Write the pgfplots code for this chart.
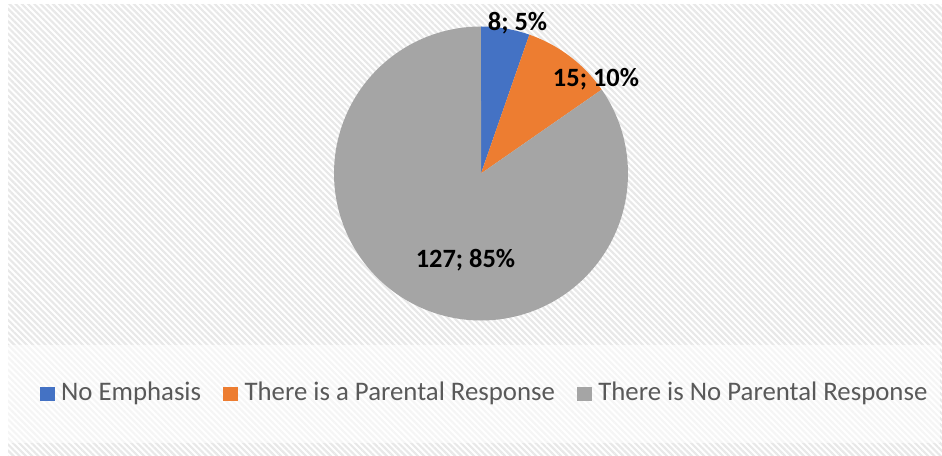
\documentclass[border=0pt]{standalone}
\usepackage{pgfplots}
\pgfplotsset{compat=1.18}
\usepackage{pgfplotstable}
\usepackage{fontspec}
\setmainfont{Carlito}
\usetikzlibrary{patterns.meta}
\definecolor{pieblue}{HTML}{4472C4}
\definecolor{pieorange}{HTML}{ED7D31}
\definecolor{piegray}{HTML}{A5A5A5}
\definecolor{legtext}{HTML}{595959}
\definecolor{hatch}{HTML}{E8E8E8}

\pgfplotstableread{
idx value
0 8
1 15
2 127
}\piedata

\begin{document}%
\begin{tikzpicture}
\pgfplotstablegetelem{0}{value}\of\piedata \let\vA\pgfplotsretval
\pgfplotstablegetelem{1}{value}\of\piedata \let\vB\pgfplotsretval
\pgfplotstablegetelem{2}{value}\of\piedata \let\vC\pgfplotsretval
\pgfmathsetmacro{\tot}{\vA+\vB+\vC}
\pgfmathsetmacro{\aZ}{90}
\pgfmathsetmacro{\aA}{90-\vA/\tot*360}
\pgfmathsetmacro{\aB}{\aA-\vB/\tot*360}
\pgfmathsetmacro{\aC}{\aB-\vC/\tot*360}
\pgfmathtruncatemacro{\pA}{round(\vA/\tot*100)}
\pgfmathtruncatemacro{\pB}{round(\vB/\tot*100)}
\pgfmathtruncatemacro{\pC}{round(\vC/\tot*100)}
\def\cx{481}
\def\cy{-173.5}
\def\rr{147}
\begin{axis}[
  scale only axis, width=471pt, height=227.5pt,
  xmin=0, xmax=942, ymin=-455, ymax=0,
  hide axis, clip=false,
  legend columns=3,
  legend image code/.code={\fill[#1] (0pt,-3.9pt) rectangle (7.5pt,3.1pt);},
  legend style={draw=none, fill=none, inner sep=0pt, at={(axis cs:485.5,-393)}, anchor=center,
    font=\fontsize{13.4}{16}\selectfont, text=legtext,
    /tikz/every even column/.append style={column sep=9pt},
    /tikz/every odd column/.append style={column sep=1.2pt},
    cells={anchor=west, inner xsep=0pt}},
]
\fill[white] (axis cs:0,0) rectangle (axis cs:942,-455);
\fill[pattern={Lines[angle=-45,distance=2.2pt,line width=1.1pt]}, pattern color=hatch]
  (axis cs:8,-5) rectangle (axis cs:942,-455);
\fill[white, fill opacity=0.6] (axis cs:8,-345) rectangle (axis cs:940,-443);

\addplot[fill=pieblue, draw=none, domain=\aA:\aZ, samples=30]
  ({\cx+\rr*cos(x)},{\cy+\rr*sin(x)}) -- (axis cs:\cx,\cy) -- cycle;
\addlegendentry{No Emphasis}
\addplot[fill=pieorange, draw=none, domain=\aB:\aA, samples=40]
  ({\cx+\rr*cos(x)},{\cy+\rr*sin(x)}) -- (axis cs:\cx,\cy) -- cycle;
\addlegendentry{There is a Parental Response}
\addplot[fill=piegray, draw=none, domain=\aC:\aB, samples=200]
  ({\cx+\rr*cos(x)},{\cy+\rr*sin(x)}) -- (axis cs:\cx,\cy) -- cycle;
\addlegendentry{There is No Parental Response}

\node[anchor=base, font=\fontsize{13.2}{15}\selectfont\bfseries, inner sep=0pt]
  at (axis cs:517.5,-31) {\vA; \pA\%};
\node[anchor=base, font=\fontsize{13.2}{15}\selectfont\bfseries, inner sep=0pt]
  at (axis cs:596,-87) {\vB; \pB\%};
\node[anchor=base, font=\fontsize{13.2}{15}\selectfont\bfseries, inner sep=0pt]
  at (axis cs:465.5,-268) {\vC; \pC\%};
\end{axis}
\end{tikzpicture}%
\end{document}
